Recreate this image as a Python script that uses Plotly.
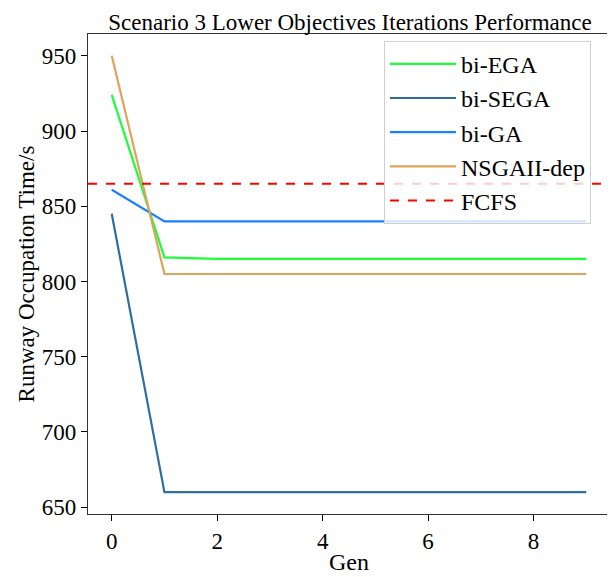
import plotly.graph_objects as go

gens = list(range(10))
bi_ega = [924, 816, 815, 815, 815, 815, 815, 815, 815, 815]
bi_sega = [845, 660, 660, 660, 660, 660, 660, 660, 660, 660]
bi_ga = [861, 840, 840, 840, 840, 840, 840, 840, 840, 840]
nsgaii_dep = [950, 805, 805, 805, 805, 805, 805, 805, 805, 805]
fcfs = 865

series = [
    ("bi-EGA", bi_ega, "#1aff3a"),
    ("bi-SEGA", bi_sega, "#2f6f9f"),
    ("bi-GA", bi_ga, "#1a80ff"),
    ("NSGAII-dep", nsgaii_dep, "#e0a35c"),
]

xmin, xmax = min(gens), max(gens)
xpad = 0.05 * (xmax - xmin)
allv = bi_ega + bi_sega + bi_ga + nsgaii_dep
ymin, ymax = min(allv), max(allv)
ypad = 0.05 * (ymax - ymin)

FONT = "Liberation Serif, Times New Roman, serif"

fig = go.Figure()
for name, vals, col in series:
    fig.add_trace(go.Scatter(x=gens, y=vals, mode="lines", name=name,
                             line=dict(color=col, width=2.2)))
fig.add_trace(go.Scatter(x=[xmin - xpad, xmax + xpad], y=[fcfs, fcfs], mode="lines",
                         name="FCFS", line=dict(color="#ff0000", width=2, dash="dash")))

fig.update_layout(
    width=607, height=569,
    margin=dict(l=80, r=5, t=26, b=63, autoexpand=False),
    paper_bgcolor="white", plot_bgcolor="white",
    font=dict(family=FONT, color="black"),
    title=dict(text="Scenario 3 Lower Objectives Iterations Performance",
               x=0.5634, xanchor="center", y=0.976, yanchor="middle",
               font=dict(size=23, family=FONT, color="black")),
    legend=dict(x=0.567, xanchor="left", y=0.986, yanchor="top",
                bgcolor="rgba(255,255,255,0.8)", bordercolor="#d0d0d0", borderwidth=1,
                font=dict(size=24, family=FONT), tracegroupgap=0, itemwidth=66),
    showlegend=True,
)
fig.update_xaxes(range=[xmin - xpad, xmax + xpad], tickvals=[0, 2, 4, 6, 8],
                 ticks="outside", ticklen=6, tickwidth=1, tickcolor="black",
                 showline=True, linecolor="#333", linewidth=1.2, mirror=True,
                 showgrid=False, zeroline=False, automargin=False,
                 tickfont=dict(size=23, family=FONT),
                 title=dict(text="Gen", font=dict(size=24, family=FONT), standoff=0))
fig.update_yaxes(range=[ymin - ypad, ymax + ypad], tickvals=[650, 700, 750, 800, 850, 900, 950],
                 ticks="outside", ticklen=6, tickwidth=1, tickcolor="black",
                 showline=True, linecolor="#333", linewidth=1.2, mirror=True,
                 showgrid=False, zeroline=False, automargin=False,
                 tickfont=dict(size=23, family=FONT),
                 title=dict(text="Runway Occupation Time/s", font=dict(size=23, family=FONT), standoff=0))

fig.write_html("out.html")
